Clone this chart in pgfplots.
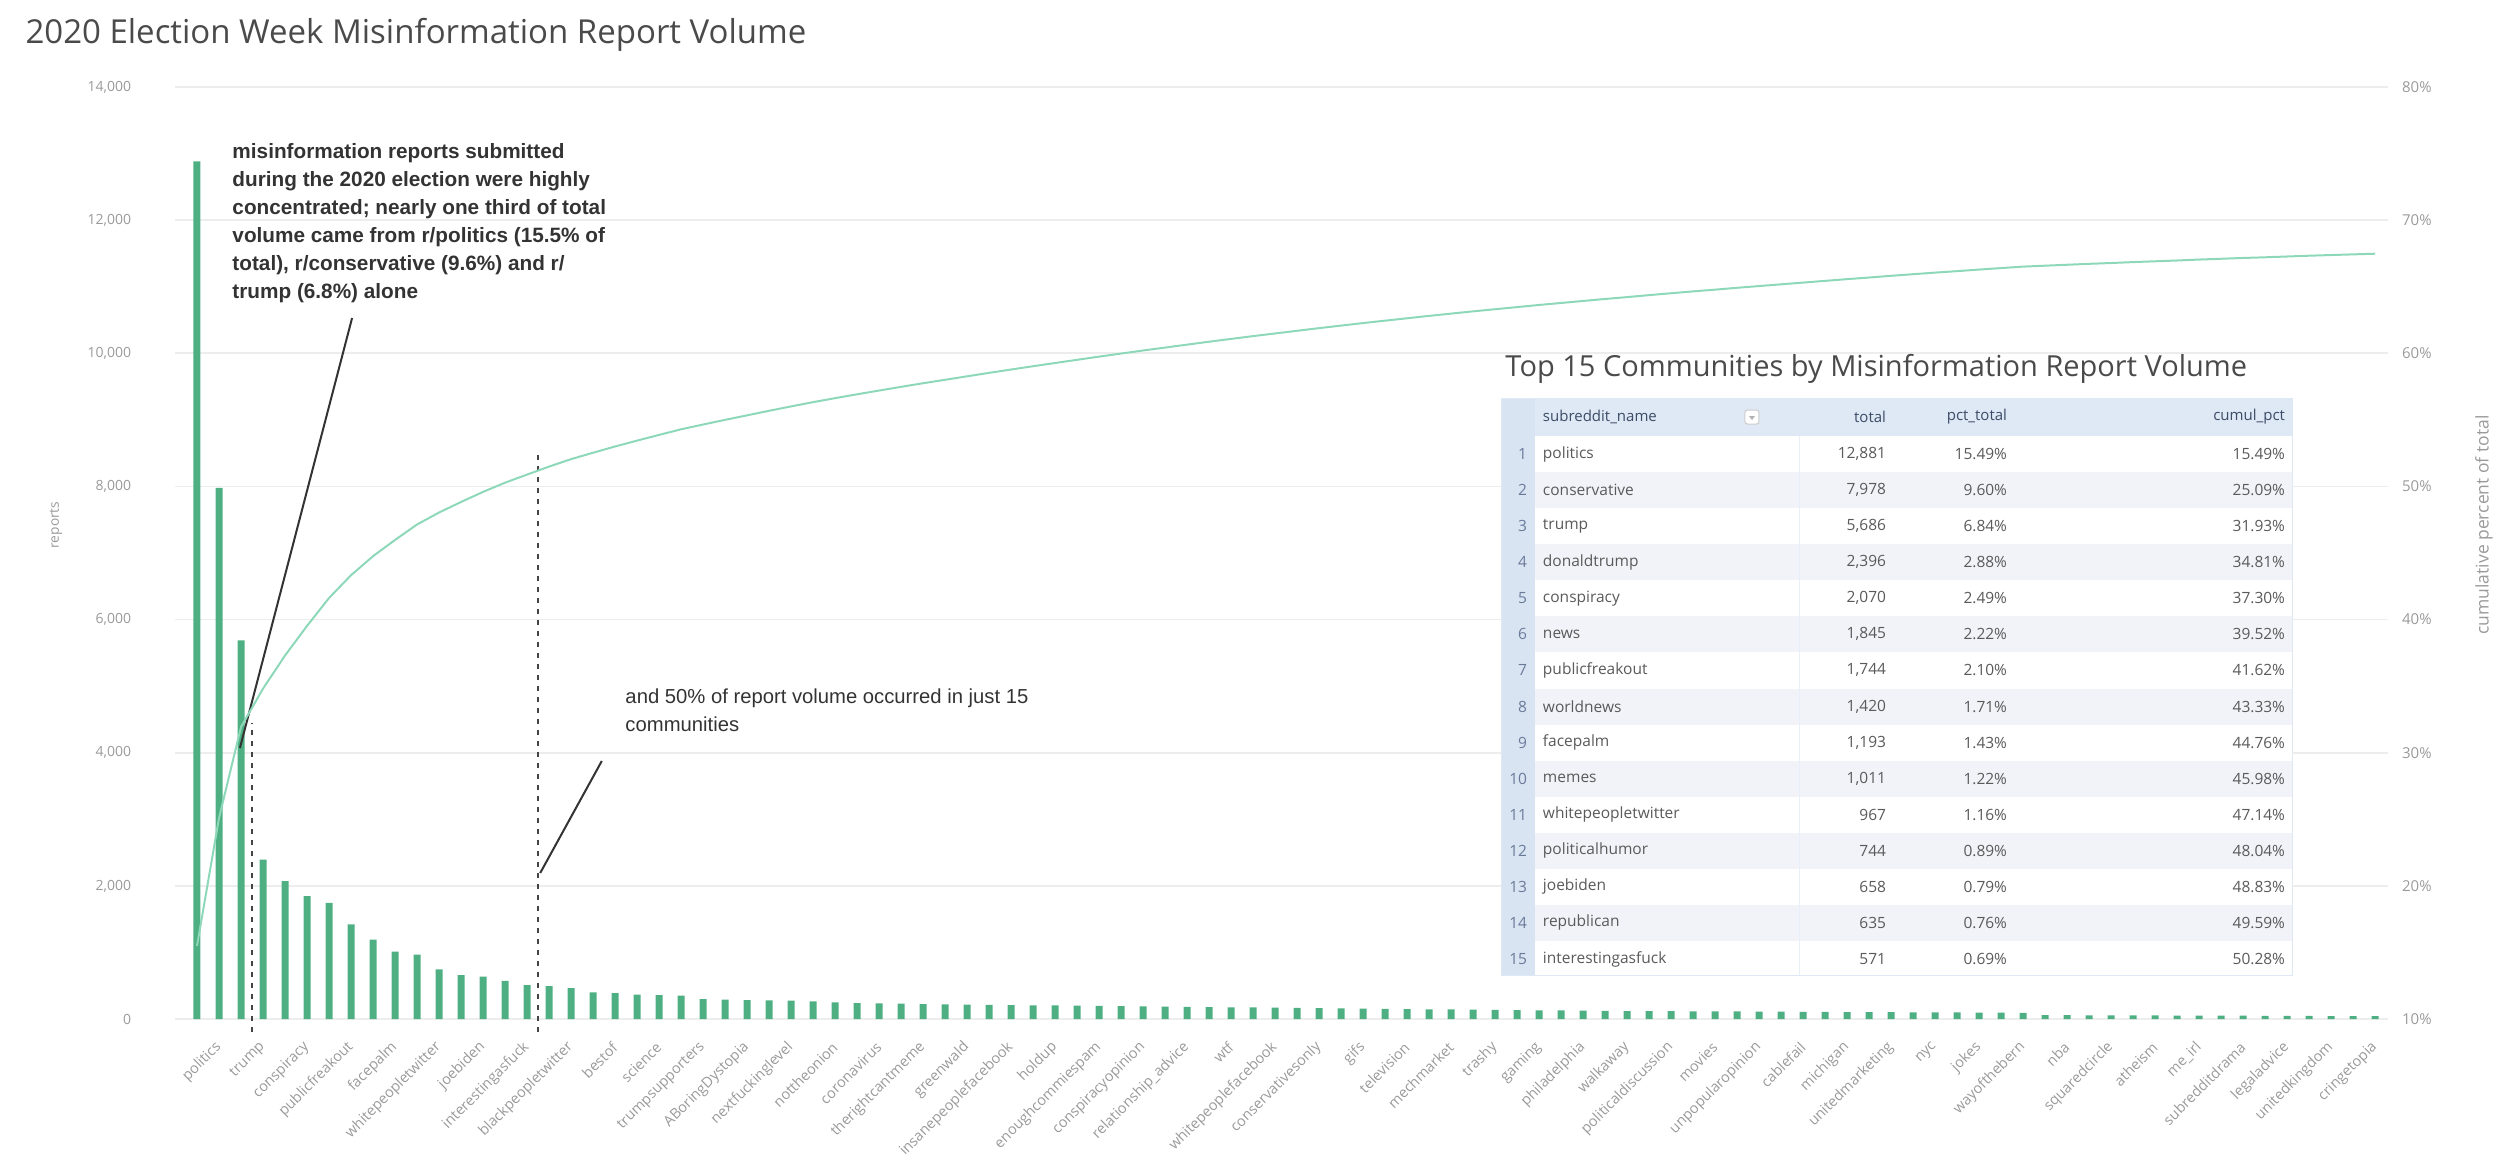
\documentclass[border=0pt]{standalone}
\usepackage{pgfplots}
\pgfplotsset{compat=1.18}
\usepackage{fontspec}
\setmainfont{Open Sans}
\newfontfamily\arialfont{Liberation Sans}
\definecolor{barc}{HTML}{4DAF82}
\definecolor{curvec}{HTML}{8ED8BA}
\definecolor{gridc}{HTML}{EDEDED}
\definecolor{tickc}{HTML}{9A9A9A}
\definecolor{annc}{HTML}{333333}
\definecolor{dashc}{HTML}{444444}
\definecolor{titlec}{HTML}{4A4A4A}
\definecolor{hdrbg}{HTML}{DFE8F5}
\definecolor{idxbg}{HTML}{D9E4F3}
\definecolor{altbg}{HTML}{F1F3F9}
\definecolor{tabtxt}{HTML}{5A5A5A}
\definecolor{hdrtxt}{HTML}{3C4B66}
\definecolor{idxtxt}{HTML}{6A7A99}
\begin{document}
\begin{tikzpicture}
\path[use as bounding box] (0,0) rectangle (998.8pt,464.4pt);
\begin{axis}[
  at={(70pt,56.8pt)}, anchor=south west,
  width=885.3pt, height=372.8pt, scale only axis,
  xmin=0, xmax=100.6, ymin=0, ymax=14000,
  axis line style={draw=none},
  major tick length=0pt,
  ytick={0,2000,...,14000},
  ymajorgrids, grid style={gridc, line width=0.7pt},
  scaled y ticks=false,
  yticklabel style={font=\fontsize{5.6}{6}\selectfont, text=tickc,
     /pgf/number format/fixed, /pgf/number format/precision=0,
     /pgf/number format/1000 sep={,}, /pgf/number format/assume math mode=true,
     xshift=-14pt},
  xtick={1,3,...,99},
  xticklabels={politics,trump,conspiracy,publicfreakout,facepalm,whitepeopletwitter,joebiden,interestingasfuck,blackpeopletwitter,bestof,science,trumpsupporters,ABoringDystopia,nextfuckinglevel,nottheonion,coronavirus,therightcantmeme,greenwald,insanepeoplefacebook,holdup,enoughcommiespam,conspiracyopinion,relationship\_advice,wtf,whitepeoplefacebook,conservativesonly,gifs,television,mechmarket,trashy,gaming,philadelphia,walkaway,politicaldiscussion,movies,unpopularopinion,cablefail,michigan,unitedmarketing,nyc,jokes,wayofthebern,nba,squaredcircle,atheism,me\_irl,subredditdrama,legaladvice,unitedkingdom,cringetopia},
  xticklabel style={font=\fontsize{5.8}{6.2}\selectfont, text=tickc, rotate=45, anchor=east, inner sep=1pt, yshift=-13.5pt},
  clip=false,
]
\addplot[ybar, bar width=2.8pt, fill=barc, draw=none] coordinates {
(1,12881)(2,7978)(3,5686)(4,2396)(5,2070)(6,1845)(7,1744)(8,1420)(9,1193)(10,1011)
(11,967)(12,744)(13,658)(14,635)(15,571)(16,510)(17,495)(18,465)(19,400)(20,390)
(21,365)(22,360)(23,350)(24,300)(25,290)(26,285)(27,280)(28,275)(29,265)(30,250)
(31,240)(32,235)(33,230)(34,225)(35,220)(36,216)(37,213)(38,210)(39,206)(40,203)
(41,200)(42,196)(43,193)(44,190)(45,186)(46,183)(47,180)(48,176)(49,173)(50,170)
(51,166)(52,163)(53,160)(54,156)(55,153)(56,150)(57,146)(58,143)(59,140)(60,137)
(61,134)(62,131)(63,128)(64,125)(65,122)(66,120)(67,119)(68,117)(69,116)(70,114)
(71,113)(72,111)(73,110)(74,108)(75,107)(76,105)(77,104)(78,102)(79,101)(80,99)
(81,98)(82,96)(83,95)(84,93)(85,58)(86,57)(87,56)(88,55)(89,54)(90,53)
(91,52)(92,51)(93,50)(94,49)(95,48)(96,47)(97,46)(98,45)(99,44)(100,43)
};
\draw[dashc, line width=1pt, dash pattern=on 2.2pt off 2.2pt] (axis cs:3.5,-200) -- (axis cs:3.5,4450);
\draw[dashc, line width=1pt, dash pattern=on 2.2pt off 2.2pt] (axis cs:16.5,-200) -- (axis cs:16.5,8550);
\draw[annc, line width=0.8pt] (axis cs:8.05,10530) -- (axis cs:2.95,4070);
\draw[annc, line width=0.8pt] (axis cs:19.4,3876) -- (axis cs:16.6,2193);
\end{axis}
\begin{axis}[
  at={(70pt,56.8pt)}, anchor=south west,
  width=885.3pt, height=372.8pt, scale only axis,
  xmin=0, xmax=100.6, ymin=10, ymax=80,
  axis x line=none, axis y line*=right,
  axis line style={draw=none},
  major tick length=0pt,
  ytick={10,20,...,80},
  yticklabel={\pgfmathprintnumber{\tick}\%},
  yticklabel style={font=\fontsize{6}{6.5}\selectfont, text=tickc,
     /pgf/number format/fixed, /pgf/number format/precision=0,
     /pgf/number format/assume math mode=true, xshift=2pt},
  clip=false,
]
\addplot[curvec, line width=0.8pt, no marks] coordinates {
(1,15.49)(2,25.09)(3,31.93)(4,34.81)(5,37.30)(6,39.52)(7,41.62)(8,43.33)(9,44.76)(10,45.98)
(11,47.14)(12,48.04)(13,48.83)(14,49.59)(15,50.28)(16,50.89)(17,51.49)(18,52.05)(19,52.53)(20,53.00)
(21,53.44)(22,53.87)(23,54.29)(24,54.65)(25,55.00)(26,55.34)(27,55.68)(28,56.01)(29,56.33)(30,56.63)
(31,56.92)(32,57.20)(33,57.48)(34,57.75)(35,58.01)(36,58.27)(37,58.53)(38,58.78)(39,59.03)(40,59.27)
(41,59.51)(42,59.75)(43,59.98)(44,60.21)(45,60.43)(46,60.65)(47,60.87)(48,61.08)(49,61.29)(50,61.49)
(51,61.69)(52,61.89)(53,62.08)(54,62.27)(55,62.45)(56,62.63)(57,62.81)(58,62.98)(59,63.15)(60,63.31)
(61,63.47)(62,63.63)(63,63.78)(64,63.93)(65,64.08)(66,64.22)(67,64.37)(68,64.51)(69,64.65)(70,64.78)
(71,64.92)(72,65.05)(73,65.18)(74,65.31)(75,65.44)(76,65.57)(77,65.69)(78,65.82)(79,65.94)(80,66.06)
(81,66.17)(82,66.29)(83,66.40)(84,66.51)(85,66.58)(86,66.65)(87,66.72)(88,66.78)(89,66.85)(90,66.91)
(91,66.97)(92,67.04)(93,67.10)(94,67.16)(95,67.21)(96,67.27)(97,67.33)(98,67.38)(99,67.43)(100,67.48)
};
\end{axis}
\begin{scope}[x=0.4pt,y=0.4pt]
\node[anchor=west, font=\fontsize{13.2}{15}\selectfont, text=titlec, inner sep=0] at (25,1126) {2020 Election Week Misinformation Report Volume};
\node[rotate=90, font=\fontsize{5.5}{6}\selectfont, text=tickc] at (56,636) {reports};
\node[rotate=90, font=\fontsize{7}{8}\selectfont, text=tickc] at (2484,636) {cumulative percent of total};
\node[anchor=north west, align=left, font=\arialfont\bfseries\fontsize{8.3}{11.2}\selectfont, text=annc, inner sep=0] at (232,1018)
 {misinformation reports submitted\\during the 2020 election were highly\\concentrated; nearly one third of total\\volume came from r/politics (15.5\% of\\total), r/conservative (9.6\%) and r/\\trump (6.8\%) alone};
\node[anchor=north west, align=left, font=\arialfont\fontsize{8.1}{11.2}\selectfont, text=annc, inner sep=0] at (625,473)
 {and 50\% of report volume occurred in just 15\\communities};
% table
\node[anchor=west, font=\fontsize{11.6}{13}\selectfont, text=titlec, inner sep=0] at (1505,792) {Top 15 Communities by Misinformation Report Volume};
\fill[white] (1502,186) rectangle (2293,763);
\fill[hdrbg] (1502,725) rectangle (2293,763);
\fill[idxbg] (1502,186) rectangle (1535,763);
\foreach \i in {2,4,...,14} \fill[altbg] (1535,{725-(\i-1)*36.07}) rectangle (2293,{725-\i*36.07});
\draw[hdrbg!70!white, line width=0.4pt] (1800,186) -- (1800,725);
\draw[hdrbg, line width=0.4pt] (1502,186) rectangle (2293,763);
\draw[gray!40, fill=white, rounded corners=1pt] (1745,737) rectangle (1759,751);
\fill[gray!60] (1749,745) -- (1755,745) -- (1752,741) -- cycle;
\begin{scope}[font=\fontsize{6}{7}\selectfont, text=hdrtxt]
\node[anchor=west, inner sep=1pt] at (1540,744) {subreddit\_name};
\node[anchor=east, inner sep=1pt] at (1889,744) {total};
\node[anchor=east, inner sep=1pt] at (2010,744) {pct\_total};
\node[anchor=east, inner sep=1pt] at (2288,744) {cumul\_pct};
\end{scope}
\begin{scope}[font=\fontsize{6.2}{7}\selectfont, text=tabtxt]
\foreach \i/\n/\t/\p/\c in {
1/politics/12{,}881/15.49/15.49,
2/conservative/7{,}978/9.60/25.09,
3/trump/5{,}686/6.84/31.93,
4/donaldtrump/2{,}396/2.88/34.81,
5/conspiracy/2{,}070/2.49/37.30,
6/news/1{,}845/2.22/39.52,
7/publicfreakout/1{,}744/2.10/41.62,
8/worldnews/1{,}420/1.71/43.33,
9/facepalm/1{,}193/1.43/44.76,
10/memes/1{,}011/1.22/45.98,
11/whitepeopletwitter/967/1.16/47.14,
12/politicalhumor/744/0.89/48.04,
13/joebiden/658/0.79/48.83,
14/republican/635/0.76/49.59,
15/interestingasfuck/571/0.69/50.28}{
  \node[anchor=east, text=idxtxt, inner sep=1pt] at (1530,{707-(\i-1)*36.07}) {\i};
  \node[anchor=west, inner sep=1pt] at (1540,{707-(\i-1)*36.07}) {\n};
  \node[anchor=east, inner sep=1pt] at (1889,{707-(\i-1)*36.07}) {\t};
  \node[anchor=east, inner sep=1pt] at (2010,{707-(\i-1)*36.07}) {\p\%};
  \node[anchor=east, inner sep=1pt] at (2288,{707-(\i-1)*36.07}) {\c\%};
}
\end{scope}
\end{scope}
\end{tikzpicture}
\end{document}
